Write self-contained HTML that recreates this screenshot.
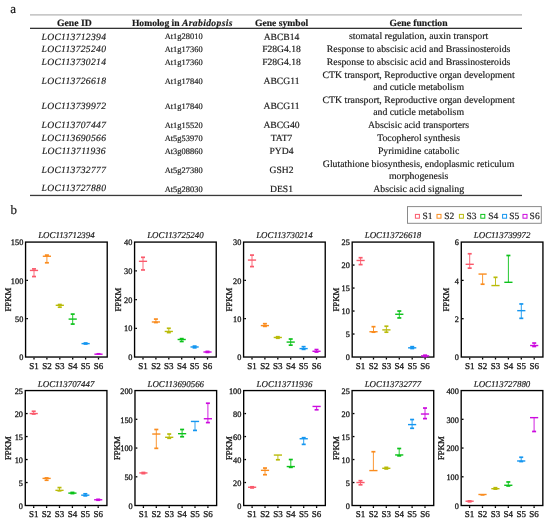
<!DOCTYPE html>
<html><head><meta charset="utf-8"><style>
html,body{margin:0;padding:0;background:#fff;}
svg{display:block;will-change:transform;filter:blur(0.3px);font-family:"Liberation Serif",serif;}
text{stroke:#1a1a1a;stroke-width:0.18px;text-rendering:geometricPrecision;}
.tk{stroke-width:0.3px;}
</style></head><body>
<svg width="550" height="524" viewBox="0 0 550 524">
<rect width="550" height="524" fill="#fff"/>
<text x="10.20" y="12.60" font-size="13" text-anchor="start" fill="#1a1a1a">a</text>
<text x="10.50" y="214.00" font-size="13" text-anchor="start" fill="#1a1a1a">b</text>
<rect x="30" y="14.0" width="492" height="1.7" fill="#c8c8c8"/>
<rect x="30" y="27.7" width="492" height="1.3" fill="#333"/>
<rect x="30" y="194.8" width="492" height="1.3" fill="#3a3a3a"/>
<text x="74.40" y="25.60" font-size="9.7" text-anchor="middle" font-weight="bold" fill="#1a1a1a">Gene ID</text>
<text x="131.90" y="25.60" font-size="9.6" text-anchor="start" font-weight="bold" fill="#1a1a1a">Homolog in <tspan font-style="italic" letter-spacing="0.36">Arabidopsis</tspan></text>
<text x="281.60" y="25.60" font-size="9.65" text-anchor="middle" font-weight="bold" fill="#1a1a1a">Gene symbol</text>
<text x="418.50" y="25.60" font-size="9.65" text-anchor="middle" font-weight="bold" fill="#1a1a1a">Gene function</text>
<text x="73.90" y="39.60" font-size="9.6" text-anchor="middle" font-style="italic" fill="#1a1a1a" letter-spacing="0.3">LOC113712394</text>
<text x="183.70" y="39.40" font-size="8.4" text-anchor="middle" fill="#1a1a1a" letter-spacing="0.05">At1g28010</text>
<text x="281.50" y="39.70" font-size="9.6" text-anchor="middle" fill="#1a1a1a">ABCB14</text>
<text x="418.60" y="39.40" font-size="9.8" text-anchor="middle" fill="#1a1a1a">stomatal regulation, auxin transport</text>
<text x="73.90" y="52.30" font-size="9.6" text-anchor="middle" font-style="italic" fill="#1a1a1a" letter-spacing="0.3">LOC113725240</text>
<text x="183.70" y="52.10" font-size="8.4" text-anchor="middle" fill="#1a1a1a" letter-spacing="0.05">At1g17360</text>
<text x="281.50" y="52.40" font-size="9.6" text-anchor="middle" fill="#1a1a1a">F28G4.18</text>
<text x="418.60" y="52.10" font-size="9.8" text-anchor="middle" fill="#1a1a1a">Response to abscisic acid and Brassinosteroids</text>
<text x="73.90" y="65.10" font-size="9.6" text-anchor="middle" font-style="italic" fill="#1a1a1a" letter-spacing="0.3">LOC113730214</text>
<text x="183.70" y="64.90" font-size="8.4" text-anchor="middle" fill="#1a1a1a" letter-spacing="0.05">At1g17360</text>
<text x="281.50" y="65.20" font-size="9.6" text-anchor="middle" fill="#1a1a1a">F28G4.18</text>
<text x="418.60" y="64.90" font-size="9.8" text-anchor="middle" fill="#1a1a1a">Response to abscisic acid and Brassinosteroids</text>
<text x="73.90" y="83.80" font-size="9.6" text-anchor="middle" font-style="italic" fill="#1a1a1a" letter-spacing="0.3">LOC113726618</text>
<text x="183.70" y="83.80" font-size="8.4" text-anchor="middle" fill="#1a1a1a" letter-spacing="0.05">At1g17840</text>
<text x="281.50" y="83.80" font-size="9.6" text-anchor="middle" fill="#1a1a1a">ABCG11</text>
<text x="418.60" y="77.60" font-size="9.8" text-anchor="middle" fill="#1a1a1a">CTK transport, Reproductive organ development</text>
<text x="418.60" y="90.00" font-size="9.8" text-anchor="middle" fill="#1a1a1a">and cuticle metabolism</text>
<text x="73.90" y="108.70" font-size="9.6" text-anchor="middle" font-style="italic" fill="#1a1a1a" letter-spacing="0.3">LOC113739972</text>
<text x="183.70" y="108.70" font-size="8.4" text-anchor="middle" fill="#1a1a1a" letter-spacing="0.05">At1g17840</text>
<text x="281.50" y="108.70" font-size="9.6" text-anchor="middle" fill="#1a1a1a">ABCG11</text>
<text x="418.60" y="102.50" font-size="9.8" text-anchor="middle" fill="#1a1a1a">CTK transport, Reproductive organ development</text>
<text x="418.60" y="114.90" font-size="9.8" text-anchor="middle" fill="#1a1a1a">and cuticle metabolism</text>
<text x="73.90" y="128.00" font-size="9.6" text-anchor="middle" font-style="italic" fill="#1a1a1a" letter-spacing="0.3">LOC113707447</text>
<text x="183.70" y="128.00" font-size="8.4" text-anchor="middle" fill="#1a1a1a" letter-spacing="0.05">At1g15520</text>
<text x="281.50" y="128.00" font-size="9.6" text-anchor="middle" fill="#1a1a1a">ABCG40</text>
<text x="418.60" y="128.00" font-size="9.8" text-anchor="middle" fill="#1a1a1a">Abscisic acid transporters</text>
<text x="73.90" y="141.00" font-size="9.6" text-anchor="middle" font-style="italic" fill="#1a1a1a" letter-spacing="0.3">LOC113690566</text>
<text x="183.70" y="141.20" font-size="8.4" text-anchor="middle" fill="#1a1a1a" letter-spacing="0.05">At5g53970</text>
<text x="281.50" y="140.70" font-size="9.6" text-anchor="middle" fill="#1a1a1a">TAT7</text>
<text x="418.60" y="141.20" font-size="9.8" text-anchor="middle" fill="#1a1a1a">Tocopherol synthesis</text>
<text x="73.90" y="153.70" font-size="9.6" text-anchor="middle" font-style="italic" fill="#1a1a1a" letter-spacing="0.3">LOC113711936</text>
<text x="183.70" y="154.30" font-size="8.4" text-anchor="middle" fill="#1a1a1a" letter-spacing="0.05">At3g08860</text>
<text x="281.50" y="153.80" font-size="9.6" text-anchor="middle" fill="#1a1a1a">PYD4</text>
<text x="418.60" y="154.30" font-size="9.8" text-anchor="middle" fill="#1a1a1a">Pyrimidine catabolic</text>
<text x="73.90" y="172.50" font-size="9.6" text-anchor="middle" font-style="italic" fill="#1a1a1a" letter-spacing="0.3">LOC113732777</text>
<text x="183.70" y="172.70" font-size="8.4" text-anchor="middle" fill="#1a1a1a" letter-spacing="0.05">At5g27380</text>
<text x="281.50" y="172.70" font-size="9.6" text-anchor="middle" fill="#1a1a1a">GSH2</text>
<text x="418.60" y="166.50" font-size="9.8" text-anchor="middle" fill="#1a1a1a">Glutathione biosynthesis, endoplasmic reticulum</text>
<text x="418.60" y="178.90" font-size="9.8" text-anchor="middle" fill="#1a1a1a">morphogenesis</text>
<text x="73.90" y="191.30" font-size="9.6" text-anchor="middle" font-style="italic" fill="#1a1a1a" letter-spacing="0.3">LOC113727880</text>
<text x="183.70" y="192.30" font-size="8.4" text-anchor="middle" fill="#1a1a1a" letter-spacing="0.05">At5g28030</text>
<text x="281.50" y="191.80" font-size="9.6" text-anchor="middle" fill="#1a1a1a">DES1</text>
<text x="418.60" y="192.30" font-size="9.8" text-anchor="middle" fill="#1a1a1a">Abscisic acid signaling</text>
<rect x="407.5" y="206.6" width="133.8" height="16.7" fill="none" stroke="#8a8a8a" stroke-width="1"/>
<rect x="415.40" y="214.4" width="4.0" height="3.8" fill="none" stroke="#fa5a6c" stroke-width="1"/>
<text x="422.40" y="219.00" font-size="9.5" text-anchor="start" fill="#1a1a1a">S1</text>
<rect x="437.00" y="214.4" width="4.0" height="3.8" fill="none" stroke="#fa8c1e" stroke-width="1"/>
<text x="444.20" y="219.00" font-size="9.5" text-anchor="start" fill="#1a1a1a">S2</text>
<rect x="459.40" y="214.4" width="4.0" height="3.8" fill="none" stroke="#b9bb0a" stroke-width="1"/>
<text x="466.40" y="219.00" font-size="9.5" text-anchor="start" fill="#1a1a1a">S3</text>
<rect x="480.80" y="214.4" width="4.0" height="3.8" fill="none" stroke="#0cc21a" stroke-width="1"/>
<text x="488.20" y="219.00" font-size="9.5" text-anchor="start" fill="#1a1a1a">S4</text>
<rect x="502.60" y="214.4" width="4.0" height="3.8" fill="none" stroke="#1496f0" stroke-width="1"/>
<text x="509.20" y="219.00" font-size="9.5" text-anchor="start" fill="#1a1a1a">S5</text>
<rect x="523.00" y="214.4" width="4.0" height="3.8" fill="none" stroke="#cc0ade" stroke-width="1"/>
<text x="529.60" y="219.00" font-size="9.5" text-anchor="start" fill="#1a1a1a">S6</text>
<text x="66.40" y="237.80" font-size="8.9" text-anchor="middle" font-style="italic" fill="#1a1a1a">LOC113712394</text>
<rect x="25.57" y="242.08" width="81.65" height="114.95" fill="none" stroke="#000" stroke-width="1.35"/>
<text x="23.30" y="360.22" font-size="8.3" text-anchor="end" fill="#1a1a1a" class="tk">0</text>
<line x1="26.25" y1="318.71" x2="27.95" y2="318.71" stroke="#000" stroke-width="1.3"/>
<text x="23.30" y="321.91" font-size="8.3" text-anchor="end" fill="#1a1a1a" class="tk">50</text>
<line x1="26.25" y1="280.39" x2="27.95" y2="280.39" stroke="#000" stroke-width="1.3"/>
<text x="23.30" y="283.59" font-size="8.3" text-anchor="end" fill="#1a1a1a" class="tk">100</text>
<text x="23.30" y="245.28" font-size="8.3" text-anchor="end" fill="#1a1a1a" class="tk">150</text>
<line x1="34.00" y1="357.70" x2="34.00" y2="359.50" stroke="#000" stroke-width="1.3"/>
<text x="34.00" y="369.00" font-size="9" text-anchor="middle" fill="#1a1a1a" class="tk">S1</text>
<line x1="46.90" y1="357.70" x2="46.90" y2="359.50" stroke="#000" stroke-width="1.3"/>
<text x="46.90" y="369.00" font-size="9" text-anchor="middle" fill="#1a1a1a" class="tk">S2</text>
<line x1="59.80" y1="357.70" x2="59.80" y2="359.50" stroke="#000" stroke-width="1.3"/>
<text x="59.80" y="369.00" font-size="9" text-anchor="middle" fill="#1a1a1a" class="tk">S3</text>
<line x1="72.70" y1="357.70" x2="72.70" y2="359.50" stroke="#000" stroke-width="1.3"/>
<text x="72.70" y="369.00" font-size="9" text-anchor="middle" fill="#1a1a1a" class="tk">S4</text>
<line x1="85.60" y1="357.70" x2="85.60" y2="359.50" stroke="#000" stroke-width="1.3"/>
<text x="85.60" y="369.00" font-size="9" text-anchor="middle" fill="#1a1a1a" class="tk">S5</text>
<line x1="98.50" y1="357.70" x2="98.50" y2="359.50" stroke="#000" stroke-width="1.3"/>
<text x="98.50" y="369.00" font-size="9" text-anchor="middle" fill="#1a1a1a" class="tk">S6</text>
<text x="0" y="0" font-size="8.8" text-anchor="middle" fill="#1a1a1a" class="tk" transform="translate(11.10,299.55) rotate(-90)">FPKM</text>
<line x1="34.00" y1="268.90" x2="34.00" y2="276.56" stroke="#fa5a6c" stroke-width="0.9"/>
<line x1="32.00" y1="276.56" x2="36.00" y2="276.56" stroke="#fa5a6c" stroke-width="1.7"/>
<line x1="32.00" y1="268.90" x2="36.00" y2="268.90" stroke="#fa5a6c" stroke-width="1.7"/>
<line x1="29.90" y1="270.43" x2="38.10" y2="270.43" stroke="#fa5a6c" stroke-width="1.4"/>
<line x1="46.90" y1="255.10" x2="46.90" y2="262.77" stroke="#fa8c1e" stroke-width="0.9"/>
<line x1="44.90" y1="262.77" x2="48.90" y2="262.77" stroke="#fa8c1e" stroke-width="1.7"/>
<line x1="44.90" y1="255.10" x2="48.90" y2="255.10" stroke="#fa8c1e" stroke-width="1.7"/>
<line x1="42.80" y1="256.25" x2="51.00" y2="256.25" stroke="#fa8c1e" stroke-width="1.4"/>
<line x1="59.80" y1="304.53" x2="59.80" y2="307.21" stroke="#b9bb0a" stroke-width="0.9"/>
<line x1="57.80" y1="307.21" x2="61.80" y2="307.21" stroke="#b9bb0a" stroke-width="1.7"/>
<line x1="57.80" y1="304.53" x2="61.80" y2="304.53" stroke="#b9bb0a" stroke-width="1.7"/>
<line x1="55.70" y1="305.30" x2="63.90" y2="305.30" stroke="#b9bb0a" stroke-width="1.4"/>
<line x1="72.70" y1="314.11" x2="72.70" y2="324.07" stroke="#0cc21a" stroke-width="0.9"/>
<line x1="70.70" y1="324.07" x2="74.70" y2="324.07" stroke="#0cc21a" stroke-width="1.7"/>
<line x1="70.70" y1="314.11" x2="74.70" y2="314.11" stroke="#0cc21a" stroke-width="1.7"/>
<line x1="68.60" y1="319.09" x2="76.80" y2="319.09" stroke="#0cc21a" stroke-width="1.4"/>
<line x1="85.60" y1="343.00" x2="85.60" y2="344.00" stroke="#1496f0" stroke-width="0.9"/>
<line x1="83.60" y1="344.00" x2="87.60" y2="344.00" stroke="#1496f0" stroke-width="1.7"/>
<line x1="83.60" y1="343.00" x2="87.60" y2="343.00" stroke="#1496f0" stroke-width="1.7"/>
<line x1="81.50" y1="343.61" x2="89.70" y2="343.61" stroke="#1496f0" stroke-width="1.4"/>
<line x1="98.50" y1="353.81" x2="98.50" y2="354.42" stroke="#cc0ade" stroke-width="0.9"/>
<line x1="96.50" y1="353.81" x2="100.50" y2="353.81" stroke="#cc0ade" stroke-width="1.7"/>
<line x1="94.40" y1="354.19" x2="102.60" y2="354.19" stroke="#cc0ade" stroke-width="1.4"/>
<text x="175.40" y="237.80" font-size="8.9" text-anchor="middle" font-style="italic" fill="#1a1a1a">LOC113725240</text>
<rect x="134.58" y="242.08" width="81.65" height="114.95" fill="none" stroke="#000" stroke-width="1.35"/>
<text x="132.30" y="360.22" font-size="8.3" text-anchor="end" fill="#1a1a1a" class="tk">0</text>
<line x1="135.25" y1="328.29" x2="136.95" y2="328.29" stroke="#000" stroke-width="1.3"/>
<text x="132.30" y="331.49" font-size="8.3" text-anchor="end" fill="#1a1a1a" class="tk">10</text>
<line x1="135.25" y1="299.55" x2="136.95" y2="299.55" stroke="#000" stroke-width="1.3"/>
<text x="132.30" y="302.75" font-size="8.3" text-anchor="end" fill="#1a1a1a" class="tk">20</text>
<line x1="135.25" y1="270.81" x2="136.95" y2="270.81" stroke="#000" stroke-width="1.3"/>
<text x="132.30" y="274.01" font-size="8.3" text-anchor="end" fill="#1a1a1a" class="tk">30</text>
<text x="132.30" y="245.28" font-size="8.3" text-anchor="end" fill="#1a1a1a" class="tk">40</text>
<line x1="143.00" y1="357.70" x2="143.00" y2="359.50" stroke="#000" stroke-width="1.3"/>
<text x="143.00" y="369.00" font-size="9" text-anchor="middle" fill="#1a1a1a" class="tk">S1</text>
<line x1="155.90" y1="357.70" x2="155.90" y2="359.50" stroke="#000" stroke-width="1.3"/>
<text x="155.90" y="369.00" font-size="9" text-anchor="middle" fill="#1a1a1a" class="tk">S2</text>
<line x1="168.80" y1="357.70" x2="168.80" y2="359.50" stroke="#000" stroke-width="1.3"/>
<text x="168.80" y="369.00" font-size="9" text-anchor="middle" fill="#1a1a1a" class="tk">S3</text>
<line x1="181.70" y1="357.70" x2="181.70" y2="359.50" stroke="#000" stroke-width="1.3"/>
<text x="181.70" y="369.00" font-size="9" text-anchor="middle" fill="#1a1a1a" class="tk">S4</text>
<line x1="194.60" y1="357.70" x2="194.60" y2="359.50" stroke="#000" stroke-width="1.3"/>
<text x="194.60" y="369.00" font-size="9" text-anchor="middle" fill="#1a1a1a" class="tk">S5</text>
<line x1="207.50" y1="357.70" x2="207.50" y2="359.50" stroke="#000" stroke-width="1.3"/>
<text x="207.50" y="369.00" font-size="9" text-anchor="middle" fill="#1a1a1a" class="tk">S6</text>
<text x="0" y="0" font-size="8.8" text-anchor="middle" fill="#1a1a1a" class="tk" transform="translate(120.80,299.55) rotate(-90)">FPKM</text>
<line x1="143.00" y1="257.31" x2="143.00" y2="269.95" stroke="#fa5a6c" stroke-width="0.9"/>
<line x1="141.00" y1="269.95" x2="145.00" y2="269.95" stroke="#fa5a6c" stroke-width="1.7"/>
<line x1="141.00" y1="257.31" x2="145.00" y2="257.31" stroke="#fa5a6c" stroke-width="1.7"/>
<line x1="138.90" y1="261.33" x2="147.10" y2="261.33" stroke="#fa5a6c" stroke-width="1.4"/>
<line x1="155.90" y1="319.09" x2="155.90" y2="322.54" stroke="#fa8c1e" stroke-width="0.9"/>
<line x1="153.90" y1="322.54" x2="157.90" y2="322.54" stroke="#fa8c1e" stroke-width="1.7"/>
<line x1="153.90" y1="319.09" x2="157.90" y2="319.09" stroke="#fa8c1e" stroke-width="1.7"/>
<line x1="151.80" y1="321.97" x2="160.00" y2="321.97" stroke="#fa8c1e" stroke-width="1.4"/>
<line x1="168.80" y1="328.29" x2="168.80" y2="332.60" stroke="#b9bb0a" stroke-width="0.9"/>
<line x1="166.80" y1="332.60" x2="170.80" y2="332.60" stroke="#b9bb0a" stroke-width="1.7"/>
<line x1="166.80" y1="328.29" x2="170.80" y2="328.29" stroke="#b9bb0a" stroke-width="1.7"/>
<line x1="164.70" y1="331.45" x2="172.90" y2="331.45" stroke="#b9bb0a" stroke-width="1.4"/>
<line x1="181.70" y1="338.63" x2="181.70" y2="341.51" stroke="#0cc21a" stroke-width="0.9"/>
<line x1="179.70" y1="341.51" x2="183.70" y2="341.51" stroke="#0cc21a" stroke-width="1.7"/>
<line x1="179.70" y1="338.63" x2="183.70" y2="338.63" stroke="#0cc21a" stroke-width="1.7"/>
<line x1="177.60" y1="339.50" x2="185.80" y2="339.50" stroke="#0cc21a" stroke-width="1.4"/>
<line x1="194.60" y1="346.10" x2="194.60" y2="347.83" stroke="#1496f0" stroke-width="0.9"/>
<line x1="192.60" y1="347.83" x2="196.60" y2="347.83" stroke="#1496f0" stroke-width="1.7"/>
<line x1="192.60" y1="346.10" x2="196.60" y2="346.10" stroke="#1496f0" stroke-width="1.7"/>
<line x1="190.50" y1="346.97" x2="198.70" y2="346.97" stroke="#1496f0" stroke-width="1.4"/>
<line x1="207.50" y1="351.42" x2="207.50" y2="352.43" stroke="#cc0ade" stroke-width="0.9"/>
<line x1="205.50" y1="352.43" x2="209.50" y2="352.43" stroke="#cc0ade" stroke-width="1.7"/>
<line x1="205.50" y1="351.42" x2="209.50" y2="351.42" stroke="#cc0ade" stroke-width="1.7"/>
<line x1="203.40" y1="352.00" x2="211.60" y2="352.00" stroke="#cc0ade" stroke-width="1.4"/>
<text x="284.40" y="237.80" font-size="8.9" text-anchor="middle" font-style="italic" fill="#1a1a1a">LOC113730214</text>
<rect x="243.58" y="242.08" width="81.65" height="114.95" fill="none" stroke="#000" stroke-width="1.35"/>
<text x="241.30" y="360.22" font-size="8.3" text-anchor="end" fill="#1a1a1a" class="tk">0</text>
<line x1="244.25" y1="318.71" x2="245.95" y2="318.71" stroke="#000" stroke-width="1.3"/>
<text x="241.30" y="321.91" font-size="8.3" text-anchor="end" fill="#1a1a1a" class="tk">10</text>
<line x1="244.25" y1="280.39" x2="245.95" y2="280.39" stroke="#000" stroke-width="1.3"/>
<text x="241.30" y="283.59" font-size="8.3" text-anchor="end" fill="#1a1a1a" class="tk">20</text>
<text x="241.30" y="245.28" font-size="8.3" text-anchor="end" fill="#1a1a1a" class="tk">30</text>
<line x1="252.00" y1="357.70" x2="252.00" y2="359.50" stroke="#000" stroke-width="1.3"/>
<text x="252.00" y="369.00" font-size="9" text-anchor="middle" fill="#1a1a1a" class="tk">S1</text>
<line x1="264.90" y1="357.70" x2="264.90" y2="359.50" stroke="#000" stroke-width="1.3"/>
<text x="264.90" y="369.00" font-size="9" text-anchor="middle" fill="#1a1a1a" class="tk">S2</text>
<line x1="277.80" y1="357.70" x2="277.80" y2="359.50" stroke="#000" stroke-width="1.3"/>
<text x="277.80" y="369.00" font-size="9" text-anchor="middle" fill="#1a1a1a" class="tk">S3</text>
<line x1="290.70" y1="357.70" x2="290.70" y2="359.50" stroke="#000" stroke-width="1.3"/>
<text x="290.70" y="369.00" font-size="9" text-anchor="middle" fill="#1a1a1a" class="tk">S4</text>
<line x1="303.60" y1="357.70" x2="303.60" y2="359.50" stroke="#000" stroke-width="1.3"/>
<text x="303.60" y="369.00" font-size="9" text-anchor="middle" fill="#1a1a1a" class="tk">S5</text>
<line x1="316.50" y1="357.70" x2="316.50" y2="359.50" stroke="#000" stroke-width="1.3"/>
<text x="316.50" y="369.00" font-size="9" text-anchor="middle" fill="#1a1a1a" class="tk">S6</text>
<text x="0" y="0" font-size="8.8" text-anchor="middle" fill="#1a1a1a" class="tk" transform="translate(232.10,299.55) rotate(-90)">FPKM</text>
<line x1="252.00" y1="255.10" x2="252.00" y2="266.60" stroke="#fa5a6c" stroke-width="0.9"/>
<line x1="250.00" y1="266.60" x2="254.00" y2="266.60" stroke="#fa5a6c" stroke-width="1.7"/>
<line x1="250.00" y1="255.10" x2="254.00" y2="255.10" stroke="#fa5a6c" stroke-width="1.7"/>
<line x1="247.90" y1="260.08" x2="256.10" y2="260.08" stroke="#fa5a6c" stroke-width="1.4"/>
<line x1="264.90" y1="323.69" x2="264.90" y2="326.37" stroke="#fa8c1e" stroke-width="0.9"/>
<line x1="262.90" y1="326.37" x2="266.90" y2="326.37" stroke="#fa8c1e" stroke-width="1.7"/>
<line x1="262.90" y1="323.69" x2="266.90" y2="323.69" stroke="#fa8c1e" stroke-width="1.7"/>
<line x1="260.80" y1="325.61" x2="269.00" y2="325.61" stroke="#fa8c1e" stroke-width="1.4"/>
<line x1="277.80" y1="336.72" x2="277.80" y2="338.25" stroke="#b9bb0a" stroke-width="0.9"/>
<line x1="275.80" y1="338.25" x2="279.80" y2="338.25" stroke="#b9bb0a" stroke-width="1.7"/>
<line x1="275.80" y1="336.72" x2="279.80" y2="336.72" stroke="#b9bb0a" stroke-width="1.7"/>
<line x1="273.70" y1="337.48" x2="281.90" y2="337.48" stroke="#b9bb0a" stroke-width="1.4"/>
<line x1="290.70" y1="339.02" x2="290.70" y2="345.15" stroke="#0cc21a" stroke-width="0.9"/>
<line x1="288.70" y1="345.15" x2="292.70" y2="345.15" stroke="#0cc21a" stroke-width="1.7"/>
<line x1="288.70" y1="339.02" x2="292.70" y2="339.02" stroke="#0cc21a" stroke-width="1.7"/>
<line x1="286.60" y1="342.08" x2="294.80" y2="342.08" stroke="#0cc21a" stroke-width="1.4"/>
<line x1="303.60" y1="346.68" x2="303.60" y2="349.36" stroke="#1496f0" stroke-width="0.9"/>
<line x1="301.60" y1="349.36" x2="305.60" y2="349.36" stroke="#1496f0" stroke-width="1.7"/>
<line x1="301.60" y1="346.68" x2="305.60" y2="346.68" stroke="#1496f0" stroke-width="1.7"/>
<line x1="299.50" y1="348.60" x2="307.70" y2="348.60" stroke="#1496f0" stroke-width="1.4"/>
<line x1="316.50" y1="349.55" x2="316.50" y2="352.04" stroke="#cc0ade" stroke-width="0.9"/>
<line x1="314.50" y1="352.04" x2="318.50" y2="352.04" stroke="#cc0ade" stroke-width="1.7"/>
<line x1="314.50" y1="349.55" x2="318.50" y2="349.55" stroke="#cc0ade" stroke-width="1.7"/>
<line x1="312.40" y1="351.28" x2="320.60" y2="351.28" stroke="#cc0ade" stroke-width="1.4"/>
<text x="393.00" y="237.80" font-size="8.9" text-anchor="middle" font-style="italic" fill="#1a1a1a">LOC113726618</text>
<rect x="352.18" y="242.08" width="81.65" height="114.95" fill="none" stroke="#000" stroke-width="1.35"/>
<text x="349.90" y="360.22" font-size="8.3" text-anchor="end" fill="#1a1a1a" class="tk">0</text>
<line x1="352.85" y1="334.03" x2="354.55" y2="334.03" stroke="#000" stroke-width="1.3"/>
<text x="349.90" y="337.23" font-size="8.3" text-anchor="end" fill="#1a1a1a" class="tk">5</text>
<line x1="352.85" y1="311.04" x2="354.55" y2="311.04" stroke="#000" stroke-width="1.3"/>
<text x="349.90" y="314.24" font-size="8.3" text-anchor="end" fill="#1a1a1a" class="tk">10</text>
<line x1="352.85" y1="288.06" x2="354.55" y2="288.06" stroke="#000" stroke-width="1.3"/>
<text x="349.90" y="291.25" font-size="8.3" text-anchor="end" fill="#1a1a1a" class="tk">15</text>
<line x1="352.85" y1="265.06" x2="354.55" y2="265.06" stroke="#000" stroke-width="1.3"/>
<text x="349.90" y="268.26" font-size="8.3" text-anchor="end" fill="#1a1a1a" class="tk">20</text>
<text x="349.90" y="245.28" font-size="8.3" text-anchor="end" fill="#1a1a1a" class="tk">25</text>
<line x1="360.60" y1="357.70" x2="360.60" y2="359.50" stroke="#000" stroke-width="1.3"/>
<text x="360.60" y="369.00" font-size="9" text-anchor="middle" fill="#1a1a1a" class="tk">S1</text>
<line x1="373.50" y1="357.70" x2="373.50" y2="359.50" stroke="#000" stroke-width="1.3"/>
<text x="373.50" y="369.00" font-size="9" text-anchor="middle" fill="#1a1a1a" class="tk">S2</text>
<line x1="386.40" y1="357.70" x2="386.40" y2="359.50" stroke="#000" stroke-width="1.3"/>
<text x="386.40" y="369.00" font-size="9" text-anchor="middle" fill="#1a1a1a" class="tk">S3</text>
<line x1="399.30" y1="357.70" x2="399.30" y2="359.50" stroke="#000" stroke-width="1.3"/>
<text x="399.30" y="369.00" font-size="9" text-anchor="middle" fill="#1a1a1a" class="tk">S4</text>
<line x1="412.20" y1="357.70" x2="412.20" y2="359.50" stroke="#000" stroke-width="1.3"/>
<text x="412.20" y="369.00" font-size="9" text-anchor="middle" fill="#1a1a1a" class="tk">S5</text>
<line x1="425.10" y1="357.70" x2="425.10" y2="359.50" stroke="#000" stroke-width="1.3"/>
<text x="425.10" y="369.00" font-size="9" text-anchor="middle" fill="#1a1a1a" class="tk">S6</text>
<text x="0" y="0" font-size="8.8" text-anchor="middle" fill="#1a1a1a" class="tk" transform="translate(339.20,299.55) rotate(-90)">FPKM</text>
<line x1="360.60" y1="257.71" x2="360.60" y2="264.61" stroke="#fa5a6c" stroke-width="0.9"/>
<line x1="358.60" y1="264.61" x2="362.60" y2="264.61" stroke="#fa5a6c" stroke-width="1.7"/>
<line x1="358.60" y1="257.71" x2="362.60" y2="257.71" stroke="#fa5a6c" stroke-width="1.7"/>
<line x1="356.50" y1="260.47" x2="364.70" y2="260.47" stroke="#fa5a6c" stroke-width="1.4"/>
<line x1="373.50" y1="326.68" x2="373.50" y2="332.20" stroke="#fa8c1e" stroke-width="0.9"/>
<line x1="371.50" y1="332.20" x2="375.50" y2="332.20" stroke="#fa8c1e" stroke-width="1.7"/>
<line x1="371.50" y1="326.68" x2="375.50" y2="326.68" stroke="#fa8c1e" stroke-width="1.7"/>
<line x1="369.40" y1="331.74" x2="377.60" y2="331.74" stroke="#fa8c1e" stroke-width="1.4"/>
<line x1="386.40" y1="326.22" x2="386.40" y2="332.20" stroke="#b9bb0a" stroke-width="0.9"/>
<line x1="384.40" y1="332.20" x2="388.40" y2="332.20" stroke="#b9bb0a" stroke-width="1.7"/>
<line x1="384.40" y1="326.22" x2="388.40" y2="326.22" stroke="#b9bb0a" stroke-width="1.7"/>
<line x1="382.30" y1="329.90" x2="390.50" y2="329.90" stroke="#b9bb0a" stroke-width="1.4"/>
<line x1="399.30" y1="311.04" x2="399.30" y2="317.94" stroke="#0cc21a" stroke-width="0.9"/>
<line x1="397.30" y1="317.94" x2="401.30" y2="317.94" stroke="#0cc21a" stroke-width="1.7"/>
<line x1="397.30" y1="311.04" x2="401.30" y2="311.04" stroke="#0cc21a" stroke-width="1.7"/>
<line x1="395.20" y1="314.26" x2="403.40" y2="314.26" stroke="#0cc21a" stroke-width="1.4"/>
<line x1="412.20" y1="346.68" x2="412.20" y2="348.52" stroke="#1496f0" stroke-width="0.9"/>
<line x1="410.20" y1="348.52" x2="414.20" y2="348.52" stroke="#1496f0" stroke-width="1.7"/>
<line x1="410.20" y1="346.68" x2="414.20" y2="346.68" stroke="#1496f0" stroke-width="1.7"/>
<line x1="408.10" y1="347.83" x2="416.30" y2="347.83" stroke="#1496f0" stroke-width="1.4"/>
<line x1="425.10" y1="355.19" x2="425.10" y2="356.57" stroke="#cc0ade" stroke-width="0.9"/>
<line x1="423.10" y1="356.57" x2="427.10" y2="356.57" stroke="#cc0ade" stroke-width="1.7"/>
<line x1="423.10" y1="355.19" x2="427.10" y2="355.19" stroke="#cc0ade" stroke-width="1.7"/>
<line x1="421.00" y1="355.88" x2="429.20" y2="355.88" stroke="#cc0ade" stroke-width="1.4"/>
<text x="502.10" y="237.80" font-size="8.9" text-anchor="middle" font-style="italic" fill="#1a1a1a">LOC113739972</text>
<rect x="461.28" y="242.08" width="81.65" height="114.95" fill="none" stroke="#000" stroke-width="1.35"/>
<text x="459.00" y="360.22" font-size="8.3" text-anchor="end" fill="#1a1a1a" class="tk">0</text>
<line x1="461.95" y1="318.71" x2="463.65" y2="318.71" stroke="#000" stroke-width="1.3"/>
<text x="459.00" y="321.91" font-size="8.3" text-anchor="end" fill="#1a1a1a" class="tk">2</text>
<line x1="461.95" y1="280.39" x2="463.65" y2="280.39" stroke="#000" stroke-width="1.3"/>
<text x="459.00" y="283.59" font-size="8.3" text-anchor="end" fill="#1a1a1a" class="tk">4</text>
<text x="459.00" y="245.28" font-size="8.3" text-anchor="end" fill="#1a1a1a" class="tk">6</text>
<line x1="469.70" y1="357.70" x2="469.70" y2="359.50" stroke="#000" stroke-width="1.3"/>
<text x="469.70" y="369.00" font-size="9" text-anchor="middle" fill="#1a1a1a" class="tk">S1</text>
<line x1="482.60" y1="357.70" x2="482.60" y2="359.50" stroke="#000" stroke-width="1.3"/>
<text x="482.60" y="369.00" font-size="9" text-anchor="middle" fill="#1a1a1a" class="tk">S2</text>
<line x1="495.50" y1="357.70" x2="495.50" y2="359.50" stroke="#000" stroke-width="1.3"/>
<text x="495.50" y="369.00" font-size="9" text-anchor="middle" fill="#1a1a1a" class="tk">S3</text>
<line x1="508.40" y1="357.70" x2="508.40" y2="359.50" stroke="#000" stroke-width="1.3"/>
<text x="508.40" y="369.00" font-size="9" text-anchor="middle" fill="#1a1a1a" class="tk">S4</text>
<line x1="521.30" y1="357.70" x2="521.30" y2="359.50" stroke="#000" stroke-width="1.3"/>
<text x="521.30" y="369.00" font-size="9" text-anchor="middle" fill="#1a1a1a" class="tk">S5</text>
<line x1="534.20" y1="357.70" x2="534.20" y2="359.50" stroke="#000" stroke-width="1.3"/>
<text x="534.20" y="369.00" font-size="9" text-anchor="middle" fill="#1a1a1a" class="tk">S6</text>
<text x="0" y="0" font-size="8.8" text-anchor="middle" fill="#1a1a1a" class="tk" transform="translate(449.40,299.55) rotate(-90)">FPKM</text>
<line x1="469.70" y1="253.76" x2="469.70" y2="268.13" stroke="#fa5a6c" stroke-width="0.9"/>
<line x1="467.70" y1="268.13" x2="471.70" y2="268.13" stroke="#fa5a6c" stroke-width="1.7"/>
<line x1="467.70" y1="253.76" x2="471.70" y2="253.76" stroke="#fa5a6c" stroke-width="1.7"/>
<line x1="465.60" y1="264.30" x2="473.80" y2="264.30" stroke="#fa5a6c" stroke-width="1.4"/>
<line x1="482.60" y1="274.07" x2="482.60" y2="284.22" stroke="#fa8c1e" stroke-width="0.9"/>
<line x1="480.60" y1="284.22" x2="484.60" y2="284.22" stroke="#fa8c1e" stroke-width="1.7"/>
<line x1="478.50" y1="274.07" x2="486.70" y2="274.07" stroke="#fa8c1e" stroke-width="1.4"/>
<line x1="495.50" y1="277.33" x2="495.50" y2="285.56" stroke="#b9bb0a" stroke-width="0.9"/>
<line x1="493.50" y1="277.33" x2="497.50" y2="277.33" stroke="#b9bb0a" stroke-width="1.7"/>
<line x1="491.40" y1="285.56" x2="499.60" y2="285.56" stroke="#b9bb0a" stroke-width="1.4"/>
<line x1="508.40" y1="255.49" x2="508.40" y2="282.31" stroke="#0cc21a" stroke-width="0.9"/>
<line x1="506.40" y1="255.49" x2="510.40" y2="255.49" stroke="#0cc21a" stroke-width="1.7"/>
<line x1="504.30" y1="282.31" x2="512.50" y2="282.31" stroke="#0cc21a" stroke-width="1.4"/>
<line x1="521.30" y1="303.96" x2="521.30" y2="318.33" stroke="#1496f0" stroke-width="0.9"/>
<line x1="519.30" y1="318.33" x2="523.30" y2="318.33" stroke="#1496f0" stroke-width="1.7"/>
<line x1="519.30" y1="303.96" x2="523.30" y2="303.96" stroke="#1496f0" stroke-width="1.7"/>
<line x1="517.20" y1="310.66" x2="525.40" y2="310.66" stroke="#1496f0" stroke-width="1.4"/>
<line x1="534.20" y1="343.04" x2="534.20" y2="346.49" stroke="#cc0ade" stroke-width="0.9"/>
<line x1="532.20" y1="346.49" x2="536.20" y2="346.49" stroke="#cc0ade" stroke-width="1.7"/>
<line x1="532.20" y1="343.04" x2="536.20" y2="343.04" stroke="#cc0ade" stroke-width="1.7"/>
<line x1="530.10" y1="345.53" x2="538.30" y2="345.53" stroke="#cc0ade" stroke-width="1.4"/>
<text x="66.10" y="387.10" font-size="8.9" text-anchor="middle" font-style="italic" fill="#1a1a1a">LOC113707447</text>
<rect x="25.28" y="390.57" width="81.65" height="114.95" fill="none" stroke="#000" stroke-width="1.35"/>
<text x="23.00" y="508.72" font-size="8.3" text-anchor="end" fill="#1a1a1a" class="tk">0</text>
<line x1="25.95" y1="482.53" x2="27.65" y2="482.53" stroke="#000" stroke-width="1.3"/>
<text x="23.00" y="485.73" font-size="8.3" text-anchor="end" fill="#1a1a1a" class="tk">5</text>
<line x1="25.95" y1="459.54" x2="27.65" y2="459.54" stroke="#000" stroke-width="1.3"/>
<text x="23.00" y="462.74" font-size="8.3" text-anchor="end" fill="#1a1a1a" class="tk">10</text>
<line x1="25.95" y1="436.56" x2="27.65" y2="436.56" stroke="#000" stroke-width="1.3"/>
<text x="23.00" y="439.75" font-size="8.3" text-anchor="end" fill="#1a1a1a" class="tk">15</text>
<line x1="25.95" y1="413.56" x2="27.65" y2="413.56" stroke="#000" stroke-width="1.3"/>
<text x="23.00" y="416.76" font-size="8.3" text-anchor="end" fill="#1a1a1a" class="tk">20</text>
<text x="23.00" y="393.77" font-size="8.3" text-anchor="end" fill="#1a1a1a" class="tk">25</text>
<line x1="33.70" y1="506.20" x2="33.70" y2="508.00" stroke="#000" stroke-width="1.3"/>
<text x="33.70" y="517.20" font-size="9" text-anchor="middle" fill="#1a1a1a" class="tk">S1</text>
<line x1="46.60" y1="506.20" x2="46.60" y2="508.00" stroke="#000" stroke-width="1.3"/>
<text x="46.60" y="517.20" font-size="9" text-anchor="middle" fill="#1a1a1a" class="tk">S2</text>
<line x1="59.50" y1="506.20" x2="59.50" y2="508.00" stroke="#000" stroke-width="1.3"/>
<text x="59.50" y="517.20" font-size="9" text-anchor="middle" fill="#1a1a1a" class="tk">S3</text>
<line x1="72.40" y1="506.20" x2="72.40" y2="508.00" stroke="#000" stroke-width="1.3"/>
<text x="72.40" y="517.20" font-size="9" text-anchor="middle" fill="#1a1a1a" class="tk">S4</text>
<line x1="85.30" y1="506.20" x2="85.30" y2="508.00" stroke="#000" stroke-width="1.3"/>
<text x="85.30" y="517.20" font-size="9" text-anchor="middle" fill="#1a1a1a" class="tk">S5</text>
<line x1="98.20" y1="506.20" x2="98.20" y2="508.00" stroke="#000" stroke-width="1.3"/>
<text x="98.20" y="517.20" font-size="9" text-anchor="middle" fill="#1a1a1a" class="tk">S6</text>
<text x="0" y="0" font-size="8.8" text-anchor="middle" fill="#1a1a1a" class="tk" transform="translate(11.30,448.05) rotate(-90)">FPKM</text>
<line x1="33.70" y1="411.27" x2="33.70" y2="414.02" stroke="#fa5a6c" stroke-width="0.9"/>
<line x1="31.70" y1="414.02" x2="35.70" y2="414.02" stroke="#fa5a6c" stroke-width="1.7"/>
<line x1="31.70" y1="411.27" x2="35.70" y2="411.27" stroke="#fa5a6c" stroke-width="1.7"/>
<line x1="29.60" y1="413.56" x2="37.80" y2="413.56" stroke="#fa5a6c" stroke-width="1.4"/>
<line x1="46.60" y1="477.94" x2="46.60" y2="480.24" stroke="#fa8c1e" stroke-width="0.9"/>
<line x1="44.60" y1="480.24" x2="48.60" y2="480.24" stroke="#fa8c1e" stroke-width="1.7"/>
<line x1="44.60" y1="477.94" x2="48.60" y2="477.94" stroke="#fa8c1e" stroke-width="1.7"/>
<line x1="42.50" y1="478.40" x2="50.70" y2="478.40" stroke="#fa8c1e" stroke-width="1.4"/>
<line x1="59.50" y1="487.59" x2="59.50" y2="490.81" stroke="#b9bb0a" stroke-width="0.9"/>
<line x1="57.50" y1="490.81" x2="61.50" y2="490.81" stroke="#b9bb0a" stroke-width="1.7"/>
<line x1="57.50" y1="487.59" x2="61.50" y2="487.59" stroke="#b9bb0a" stroke-width="1.7"/>
<line x1="55.40" y1="490.35" x2="63.60" y2="490.35" stroke="#b9bb0a" stroke-width="1.4"/>
<line x1="72.40" y1="492.42" x2="72.40" y2="493.57" stroke="#0cc21a" stroke-width="0.9"/>
<line x1="70.40" y1="493.57" x2="74.40" y2="493.57" stroke="#0cc21a" stroke-width="1.7"/>
<line x1="70.40" y1="492.42" x2="74.40" y2="492.42" stroke="#0cc21a" stroke-width="1.7"/>
<line x1="68.30" y1="493.11" x2="76.50" y2="493.11" stroke="#0cc21a" stroke-width="1.4"/>
<line x1="85.30" y1="493.80" x2="85.30" y2="495.87" stroke="#1496f0" stroke-width="0.9"/>
<line x1="83.30" y1="495.87" x2="87.30" y2="495.87" stroke="#1496f0" stroke-width="1.7"/>
<line x1="83.30" y1="493.80" x2="87.30" y2="493.80" stroke="#1496f0" stroke-width="1.7"/>
<line x1="81.20" y1="495.18" x2="89.40" y2="495.18" stroke="#1496f0" stroke-width="1.4"/>
<line x1="98.20" y1="499.32" x2="98.20" y2="500.24" stroke="#cc0ade" stroke-width="0.9"/>
<line x1="96.20" y1="500.24" x2="100.20" y2="500.24" stroke="#cc0ade" stroke-width="1.7"/>
<line x1="96.20" y1="499.32" x2="100.20" y2="499.32" stroke="#cc0ade" stroke-width="1.7"/>
<line x1="94.10" y1="499.78" x2="102.30" y2="499.78" stroke="#cc0ade" stroke-width="1.4"/>
<text x="175.80" y="387.10" font-size="8.9" text-anchor="middle" font-style="italic" fill="#1a1a1a">LOC113690566</text>
<rect x="134.98" y="390.57" width="81.65" height="114.95" fill="none" stroke="#000" stroke-width="1.35"/>
<text x="132.70" y="508.72" font-size="8.3" text-anchor="end" fill="#1a1a1a" class="tk">0</text>
<line x1="135.65" y1="476.79" x2="137.35" y2="476.79" stroke="#000" stroke-width="1.3"/>
<text x="132.70" y="479.99" font-size="8.3" text-anchor="end" fill="#1a1a1a" class="tk">50</text>
<line x1="135.65" y1="448.05" x2="137.35" y2="448.05" stroke="#000" stroke-width="1.3"/>
<text x="132.70" y="451.25" font-size="8.3" text-anchor="end" fill="#1a1a1a" class="tk">100</text>
<line x1="135.65" y1="419.31" x2="137.35" y2="419.31" stroke="#000" stroke-width="1.3"/>
<text x="132.70" y="422.51" font-size="8.3" text-anchor="end" fill="#1a1a1a" class="tk">150</text>
<text x="132.70" y="393.77" font-size="8.3" text-anchor="end" fill="#1a1a1a" class="tk">200</text>
<line x1="143.40" y1="506.20" x2="143.40" y2="508.00" stroke="#000" stroke-width="1.3"/>
<text x="143.40" y="517.20" font-size="9" text-anchor="middle" fill="#1a1a1a" class="tk">S1</text>
<line x1="156.30" y1="506.20" x2="156.30" y2="508.00" stroke="#000" stroke-width="1.3"/>
<text x="156.30" y="517.20" font-size="9" text-anchor="middle" fill="#1a1a1a" class="tk">S2</text>
<line x1="169.20" y1="506.20" x2="169.20" y2="508.00" stroke="#000" stroke-width="1.3"/>
<text x="169.20" y="517.20" font-size="9" text-anchor="middle" fill="#1a1a1a" class="tk">S3</text>
<line x1="182.10" y1="506.20" x2="182.10" y2="508.00" stroke="#000" stroke-width="1.3"/>
<text x="182.10" y="517.20" font-size="9" text-anchor="middle" fill="#1a1a1a" class="tk">S4</text>
<line x1="195.00" y1="506.20" x2="195.00" y2="508.00" stroke="#000" stroke-width="1.3"/>
<text x="195.00" y="517.20" font-size="9" text-anchor="middle" fill="#1a1a1a" class="tk">S5</text>
<line x1="207.90" y1="506.20" x2="207.90" y2="508.00" stroke="#000" stroke-width="1.3"/>
<text x="207.90" y="517.20" font-size="9" text-anchor="middle" fill="#1a1a1a" class="tk">S6</text>
<text x="0" y="0" font-size="8.8" text-anchor="middle" fill="#1a1a1a" class="tk" transform="translate(120.20,448.05) rotate(-90)">FPKM</text>
<line x1="143.40" y1="472.48" x2="143.40" y2="473.63" stroke="#fa5a6c" stroke-width="0.9"/>
<line x1="141.40" y1="473.63" x2="145.40" y2="473.63" stroke="#fa5a6c" stroke-width="1.7"/>
<line x1="141.40" y1="472.48" x2="145.40" y2="472.48" stroke="#fa5a6c" stroke-width="1.7"/>
<line x1="139.30" y1="472.94" x2="147.50" y2="472.94" stroke="#fa5a6c" stroke-width="1.4"/>
<line x1="156.30" y1="429.49" x2="156.30" y2="448.34" stroke="#fa8c1e" stroke-width="0.9"/>
<line x1="154.30" y1="448.34" x2="158.30" y2="448.34" stroke="#fa8c1e" stroke-width="1.7"/>
<line x1="154.30" y1="429.49" x2="158.30" y2="429.49" stroke="#fa8c1e" stroke-width="1.7"/>
<line x1="152.20" y1="434.03" x2="160.40" y2="434.03" stroke="#fa8c1e" stroke-width="1.4"/>
<line x1="169.20" y1="434.03" x2="169.20" y2="438.28" stroke="#b9bb0a" stroke-width="0.9"/>
<line x1="167.20" y1="438.28" x2="171.20" y2="438.28" stroke="#b9bb0a" stroke-width="1.7"/>
<line x1="167.20" y1="434.03" x2="171.20" y2="434.03" stroke="#b9bb0a" stroke-width="1.7"/>
<line x1="165.10" y1="437.30" x2="173.30" y2="437.30" stroke="#b9bb0a" stroke-width="1.4"/>
<line x1="182.10" y1="429.49" x2="182.10" y2="436.73" stroke="#0cc21a" stroke-width="0.9"/>
<line x1="180.10" y1="436.73" x2="184.10" y2="436.73" stroke="#0cc21a" stroke-width="1.7"/>
<line x1="180.10" y1="429.49" x2="184.10" y2="429.49" stroke="#0cc21a" stroke-width="1.7"/>
<line x1="178.00" y1="433.68" x2="186.20" y2="433.68" stroke="#0cc21a" stroke-width="1.4"/>
<line x1="195.00" y1="421.44" x2="195.00" y2="430.41" stroke="#1496f0" stroke-width="0.9"/>
<line x1="193.00" y1="430.41" x2="197.00" y2="430.41" stroke="#1496f0" stroke-width="1.7"/>
<line x1="190.90" y1="421.44" x2="199.10" y2="421.44" stroke="#1496f0" stroke-width="1.4"/>
<line x1="207.90" y1="403.22" x2="207.90" y2="422.59" stroke="#cc0ade" stroke-width="0.9"/>
<line x1="205.90" y1="422.59" x2="209.90" y2="422.59" stroke="#cc0ade" stroke-width="1.7"/>
<line x1="205.90" y1="403.22" x2="209.90" y2="403.22" stroke="#cc0ade" stroke-width="1.7"/>
<line x1="203.80" y1="418.74" x2="212.00" y2="418.74" stroke="#cc0ade" stroke-width="1.4"/>
<text x="284.50" y="387.10" font-size="8.9" text-anchor="middle" font-style="italic" fill="#1a1a1a">LOC113711936</text>
<rect x="243.68" y="390.57" width="81.65" height="114.95" fill="none" stroke="#000" stroke-width="1.35"/>
<text x="241.40" y="508.72" font-size="8.3" text-anchor="end" fill="#1a1a1a" class="tk">0</text>
<line x1="244.35" y1="482.53" x2="246.05" y2="482.53" stroke="#000" stroke-width="1.3"/>
<text x="241.40" y="485.73" font-size="8.3" text-anchor="end" fill="#1a1a1a" class="tk">20</text>
<line x1="244.35" y1="459.54" x2="246.05" y2="459.54" stroke="#000" stroke-width="1.3"/>
<text x="241.40" y="462.74" font-size="8.3" text-anchor="end" fill="#1a1a1a" class="tk">40</text>
<line x1="244.35" y1="436.56" x2="246.05" y2="436.56" stroke="#000" stroke-width="1.3"/>
<text x="241.40" y="439.75" font-size="8.3" text-anchor="end" fill="#1a1a1a" class="tk">60</text>
<line x1="244.35" y1="413.56" x2="246.05" y2="413.56" stroke="#000" stroke-width="1.3"/>
<text x="241.40" y="416.76" font-size="8.3" text-anchor="end" fill="#1a1a1a" class="tk">80</text>
<text x="241.40" y="393.77" font-size="8.3" text-anchor="end" fill="#1a1a1a" class="tk">100</text>
<line x1="252.10" y1="506.20" x2="252.10" y2="508.00" stroke="#000" stroke-width="1.3"/>
<text x="252.10" y="517.20" font-size="9" text-anchor="middle" fill="#1a1a1a" class="tk">S1</text>
<line x1="265.00" y1="506.20" x2="265.00" y2="508.00" stroke="#000" stroke-width="1.3"/>
<text x="265.00" y="517.20" font-size="9" text-anchor="middle" fill="#1a1a1a" class="tk">S2</text>
<line x1="277.90" y1="506.20" x2="277.90" y2="508.00" stroke="#000" stroke-width="1.3"/>
<text x="277.90" y="517.20" font-size="9" text-anchor="middle" fill="#1a1a1a" class="tk">S3</text>
<line x1="290.80" y1="506.20" x2="290.80" y2="508.00" stroke="#000" stroke-width="1.3"/>
<text x="290.80" y="517.20" font-size="9" text-anchor="middle" fill="#1a1a1a" class="tk">S4</text>
<line x1="303.70" y1="506.20" x2="303.70" y2="508.00" stroke="#000" stroke-width="1.3"/>
<text x="303.70" y="517.20" font-size="9" text-anchor="middle" fill="#1a1a1a" class="tk">S5</text>
<line x1="316.60" y1="506.20" x2="316.60" y2="508.00" stroke="#000" stroke-width="1.3"/>
<text x="316.60" y="517.20" font-size="9" text-anchor="middle" fill="#1a1a1a" class="tk">S6</text>
<text x="0" y="0" font-size="8.8" text-anchor="middle" fill="#1a1a1a" class="tk" transform="translate(231.90,448.05) rotate(-90)">FPKM</text>
<line x1="252.10" y1="486.79" x2="252.10" y2="487.94" stroke="#fa5a6c" stroke-width="0.9"/>
<line x1="250.10" y1="487.94" x2="254.10" y2="487.94" stroke="#fa5a6c" stroke-width="1.7"/>
<line x1="250.10" y1="486.79" x2="254.10" y2="486.79" stroke="#fa5a6c" stroke-width="1.7"/>
<line x1="248.00" y1="487.25" x2="256.20" y2="487.25" stroke="#fa5a6c" stroke-width="1.4"/>
<line x1="265.00" y1="468.05" x2="265.00" y2="474.72" stroke="#fa8c1e" stroke-width="0.9"/>
<line x1="263.00" y1="474.72" x2="267.00" y2="474.72" stroke="#fa8c1e" stroke-width="1.7"/>
<line x1="263.00" y1="468.05" x2="267.00" y2="468.05" stroke="#fa8c1e" stroke-width="1.7"/>
<line x1="260.90" y1="470.35" x2="269.10" y2="470.35" stroke="#fa8c1e" stroke-width="1.4"/>
<line x1="277.90" y1="455.06" x2="277.90" y2="459.77" stroke="#b9bb0a" stroke-width="0.9"/>
<line x1="275.90" y1="459.77" x2="279.90" y2="459.77" stroke="#b9bb0a" stroke-width="1.7"/>
<line x1="273.80" y1="455.06" x2="282.00" y2="455.06" stroke="#b9bb0a" stroke-width="1.4"/>
<line x1="290.80" y1="459.54" x2="290.80" y2="467.36" stroke="#0cc21a" stroke-width="0.9"/>
<line x1="288.80" y1="467.36" x2="292.80" y2="467.36" stroke="#0cc21a" stroke-width="1.7"/>
<line x1="288.80" y1="459.54" x2="292.80" y2="459.54" stroke="#0cc21a" stroke-width="1.7"/>
<line x1="286.70" y1="466.56" x2="294.90" y2="466.56" stroke="#0cc21a" stroke-width="1.4"/>
<line x1="303.70" y1="437.70" x2="303.70" y2="444.37" stroke="#1496f0" stroke-width="0.9"/>
<line x1="301.70" y1="444.37" x2="305.70" y2="444.37" stroke="#1496f0" stroke-width="1.7"/>
<line x1="301.70" y1="437.70" x2="305.70" y2="437.70" stroke="#1496f0" stroke-width="1.7"/>
<line x1="299.60" y1="438.74" x2="307.80" y2="438.74" stroke="#1496f0" stroke-width="1.4"/>
<line x1="316.60" y1="406.44" x2="316.60" y2="409.77" stroke="#cc0ade" stroke-width="0.9"/>
<line x1="314.60" y1="409.77" x2="318.60" y2="409.77" stroke="#cc0ade" stroke-width="1.7"/>
<line x1="312.50" y1="406.44" x2="320.70" y2="406.44" stroke="#cc0ade" stroke-width="1.4"/>
<text x="392.90" y="387.10" font-size="8.9" text-anchor="middle" font-style="italic" fill="#1a1a1a">LOC113732777</text>
<rect x="352.07" y="390.57" width="81.65" height="114.95" fill="none" stroke="#000" stroke-width="1.35"/>
<text x="349.80" y="508.72" font-size="8.3" text-anchor="end" fill="#1a1a1a" class="tk">0</text>
<line x1="352.75" y1="482.53" x2="354.45" y2="482.53" stroke="#000" stroke-width="1.3"/>
<text x="349.80" y="485.73" font-size="8.3" text-anchor="end" fill="#1a1a1a" class="tk">5</text>
<line x1="352.75" y1="459.54" x2="354.45" y2="459.54" stroke="#000" stroke-width="1.3"/>
<text x="349.80" y="462.74" font-size="8.3" text-anchor="end" fill="#1a1a1a" class="tk">10</text>
<line x1="352.75" y1="436.56" x2="354.45" y2="436.56" stroke="#000" stroke-width="1.3"/>
<text x="349.80" y="439.75" font-size="8.3" text-anchor="end" fill="#1a1a1a" class="tk">15</text>
<line x1="352.75" y1="413.56" x2="354.45" y2="413.56" stroke="#000" stroke-width="1.3"/>
<text x="349.80" y="416.76" font-size="8.3" text-anchor="end" fill="#1a1a1a" class="tk">20</text>
<text x="349.80" y="393.77" font-size="8.3" text-anchor="end" fill="#1a1a1a" class="tk">25</text>
<line x1="360.50" y1="506.20" x2="360.50" y2="508.00" stroke="#000" stroke-width="1.3"/>
<text x="360.50" y="517.20" font-size="9" text-anchor="middle" fill="#1a1a1a" class="tk">S1</text>
<line x1="373.40" y1="506.20" x2="373.40" y2="508.00" stroke="#000" stroke-width="1.3"/>
<text x="373.40" y="517.20" font-size="9" text-anchor="middle" fill="#1a1a1a" class="tk">S2</text>
<line x1="386.30" y1="506.20" x2="386.30" y2="508.00" stroke="#000" stroke-width="1.3"/>
<text x="386.30" y="517.20" font-size="9" text-anchor="middle" fill="#1a1a1a" class="tk">S3</text>
<line x1="399.20" y1="506.20" x2="399.20" y2="508.00" stroke="#000" stroke-width="1.3"/>
<text x="399.20" y="517.20" font-size="9" text-anchor="middle" fill="#1a1a1a" class="tk">S4</text>
<line x1="412.10" y1="506.20" x2="412.10" y2="508.00" stroke="#000" stroke-width="1.3"/>
<text x="412.10" y="517.20" font-size="9" text-anchor="middle" fill="#1a1a1a" class="tk">S5</text>
<line x1="425.00" y1="506.20" x2="425.00" y2="508.00" stroke="#000" stroke-width="1.3"/>
<text x="425.00" y="517.20" font-size="9" text-anchor="middle" fill="#1a1a1a" class="tk">S6</text>
<text x="0" y="0" font-size="8.8" text-anchor="middle" fill="#1a1a1a" class="tk" transform="translate(339.30,448.05) rotate(-90)">FPKM</text>
<line x1="360.50" y1="480.70" x2="360.50" y2="484.83" stroke="#fa5a6c" stroke-width="0.9"/>
<line x1="358.50" y1="484.83" x2="362.50" y2="484.83" stroke="#fa5a6c" stroke-width="1.7"/>
<line x1="358.50" y1="480.70" x2="362.50" y2="480.70" stroke="#fa5a6c" stroke-width="1.7"/>
<line x1="356.40" y1="482.53" x2="364.60" y2="482.53" stroke="#fa5a6c" stroke-width="1.4"/>
<line x1="373.40" y1="451.73" x2="373.40" y2="470.58" stroke="#fa8c1e" stroke-width="0.9"/>
<line x1="371.40" y1="451.73" x2="375.40" y2="451.73" stroke="#fa8c1e" stroke-width="1.7"/>
<line x1="369.30" y1="470.58" x2="377.50" y2="470.58" stroke="#fa8c1e" stroke-width="1.4"/>
<line x1="386.30" y1="467.36" x2="386.30" y2="468.97" stroke="#b9bb0a" stroke-width="0.9"/>
<line x1="384.30" y1="468.97" x2="388.30" y2="468.97" stroke="#b9bb0a" stroke-width="1.7"/>
<line x1="384.30" y1="467.36" x2="388.30" y2="467.36" stroke="#b9bb0a" stroke-width="1.7"/>
<line x1="382.20" y1="468.28" x2="390.40" y2="468.28" stroke="#b9bb0a" stroke-width="1.4"/>
<line x1="399.20" y1="448.51" x2="399.20" y2="455.87" stroke="#0cc21a" stroke-width="0.9"/>
<line x1="397.20" y1="455.87" x2="401.20" y2="455.87" stroke="#0cc21a" stroke-width="1.7"/>
<line x1="397.20" y1="448.51" x2="401.20" y2="448.51" stroke="#0cc21a" stroke-width="1.7"/>
<line x1="395.10" y1="454.95" x2="403.30" y2="454.95" stroke="#0cc21a" stroke-width="1.4"/>
<line x1="412.10" y1="419.54" x2="412.10" y2="428.28" stroke="#1496f0" stroke-width="0.9"/>
<line x1="410.10" y1="428.28" x2="414.10" y2="428.28" stroke="#1496f0" stroke-width="1.7"/>
<line x1="410.10" y1="419.54" x2="414.10" y2="419.54" stroke="#1496f0" stroke-width="1.7"/>
<line x1="408.00" y1="424.60" x2="416.20" y2="424.60" stroke="#1496f0" stroke-width="1.4"/>
<line x1="425.00" y1="408.05" x2="425.00" y2="418.62" stroke="#cc0ade" stroke-width="0.9"/>
<line x1="423.00" y1="418.62" x2="427.00" y2="418.62" stroke="#cc0ade" stroke-width="1.7"/>
<line x1="423.00" y1="408.05" x2="427.00" y2="408.05" stroke="#cc0ade" stroke-width="1.7"/>
<line x1="420.90" y1="414.02" x2="429.10" y2="414.02" stroke="#cc0ade" stroke-width="1.4"/>
<text x="502.00" y="387.10" font-size="8.9" text-anchor="middle" font-style="italic" fill="#1a1a1a">LOC113727880</text>
<rect x="461.18" y="390.57" width="81.65" height="114.95" fill="none" stroke="#000" stroke-width="1.35"/>
<text x="458.90" y="508.72" font-size="8.3" text-anchor="end" fill="#1a1a1a" class="tk">0</text>
<line x1="461.85" y1="476.79" x2="463.55" y2="476.79" stroke="#000" stroke-width="1.3"/>
<text x="458.90" y="479.99" font-size="8.3" text-anchor="end" fill="#1a1a1a" class="tk">100</text>
<line x1="461.85" y1="448.05" x2="463.55" y2="448.05" stroke="#000" stroke-width="1.3"/>
<text x="458.90" y="451.25" font-size="8.3" text-anchor="end" fill="#1a1a1a" class="tk">200</text>
<line x1="461.85" y1="419.31" x2="463.55" y2="419.31" stroke="#000" stroke-width="1.3"/>
<text x="458.90" y="422.51" font-size="8.3" text-anchor="end" fill="#1a1a1a" class="tk">300</text>
<text x="458.90" y="393.77" font-size="8.3" text-anchor="end" fill="#1a1a1a" class="tk">400</text>
<line x1="469.60" y1="506.20" x2="469.60" y2="508.00" stroke="#000" stroke-width="1.3"/>
<text x="469.60" y="517.20" font-size="9" text-anchor="middle" fill="#1a1a1a" class="tk">S1</text>
<line x1="482.50" y1="506.20" x2="482.50" y2="508.00" stroke="#000" stroke-width="1.3"/>
<text x="482.50" y="517.20" font-size="9" text-anchor="middle" fill="#1a1a1a" class="tk">S2</text>
<line x1="495.40" y1="506.20" x2="495.40" y2="508.00" stroke="#000" stroke-width="1.3"/>
<text x="495.40" y="517.20" font-size="9" text-anchor="middle" fill="#1a1a1a" class="tk">S3</text>
<line x1="508.30" y1="506.20" x2="508.30" y2="508.00" stroke="#000" stroke-width="1.3"/>
<text x="508.30" y="517.20" font-size="9" text-anchor="middle" fill="#1a1a1a" class="tk">S4</text>
<line x1="521.20" y1="506.20" x2="521.20" y2="508.00" stroke="#000" stroke-width="1.3"/>
<text x="521.20" y="517.20" font-size="9" text-anchor="middle" fill="#1a1a1a" class="tk">S5</text>
<line x1="534.10" y1="506.20" x2="534.10" y2="508.00" stroke="#000" stroke-width="1.3"/>
<text x="534.10" y="517.20" font-size="9" text-anchor="middle" fill="#1a1a1a" class="tk">S6</text>
<text x="0" y="0" font-size="8.8" text-anchor="middle" fill="#1a1a1a" class="tk" transform="translate(443.70,448.05) rotate(-90)">FPKM</text>
<line x1="469.60" y1="500.93" x2="469.60" y2="501.79" stroke="#fa5a6c" stroke-width="0.9"/>
<line x1="467.60" y1="501.79" x2="471.60" y2="501.79" stroke="#fa5a6c" stroke-width="1.7"/>
<line x1="467.60" y1="500.93" x2="471.60" y2="500.93" stroke="#fa5a6c" stroke-width="1.7"/>
<line x1="465.50" y1="501.21" x2="473.70" y2="501.21" stroke="#fa5a6c" stroke-width="1.4"/>
<line x1="482.50" y1="494.32" x2="482.50" y2="494.89" stroke="#fa8c1e" stroke-width="0.9"/>
<line x1="480.50" y1="494.89" x2="484.50" y2="494.89" stroke="#fa8c1e" stroke-width="1.7"/>
<line x1="478.40" y1="494.49" x2="486.60" y2="494.49" stroke="#fa8c1e" stroke-width="1.4"/>
<line x1="495.40" y1="487.71" x2="495.40" y2="489.14" stroke="#b9bb0a" stroke-width="0.9"/>
<line x1="493.40" y1="489.14" x2="497.40" y2="489.14" stroke="#b9bb0a" stroke-width="1.7"/>
<line x1="493.40" y1="487.71" x2="497.40" y2="487.71" stroke="#b9bb0a" stroke-width="1.7"/>
<line x1="491.30" y1="488.68" x2="499.50" y2="488.68" stroke="#b9bb0a" stroke-width="1.4"/>
<line x1="508.30" y1="481.96" x2="508.30" y2="485.98" stroke="#0cc21a" stroke-width="0.9"/>
<line x1="506.30" y1="485.98" x2="510.30" y2="485.98" stroke="#0cc21a" stroke-width="1.7"/>
<line x1="506.30" y1="481.96" x2="510.30" y2="481.96" stroke="#0cc21a" stroke-width="1.7"/>
<line x1="504.20" y1="485.27" x2="512.40" y2="485.27" stroke="#0cc21a" stroke-width="1.4"/>
<line x1="521.20" y1="457.25" x2="521.20" y2="461.56" stroke="#1496f0" stroke-width="0.9"/>
<line x1="519.20" y1="461.56" x2="523.20" y2="461.56" stroke="#1496f0" stroke-width="1.7"/>
<line x1="519.20" y1="457.25" x2="523.20" y2="457.25" stroke="#1496f0" stroke-width="1.7"/>
<line x1="517.10" y1="460.98" x2="525.30" y2="460.98" stroke="#1496f0" stroke-width="1.4"/>
<line x1="534.10" y1="417.65" x2="534.10" y2="431.50" stroke="#cc0ade" stroke-width="0.9"/>
<line x1="532.10" y1="431.50" x2="536.10" y2="431.50" stroke="#cc0ade" stroke-width="1.7"/>
<line x1="530.00" y1="417.65" x2="538.20" y2="417.65" stroke="#cc0ade" stroke-width="1.4"/>
</svg>
</body></html>
